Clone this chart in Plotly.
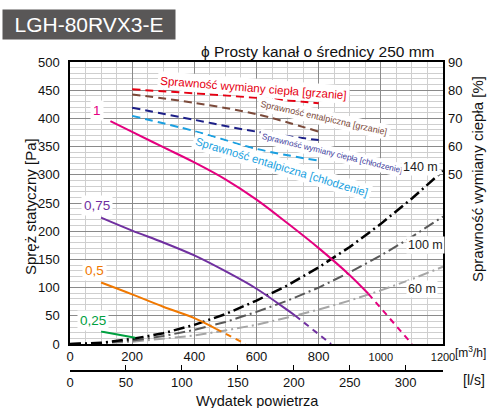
import plotly.graph_objects as go

W, H = 490, 408
ML, MR, MT, MB = 70, 47, 62, 37

# ---------------- data ----------------
# fan curves (static pressure [Pa] vs airflow [m3/h])
fan1_x = [130, 200, 300, 400, 500, 600, 700, 800, 900, 960]
fan1_y = [395, 376, 349, 322, 292, 256, 214, 170, 122, 89]
fan1_ext_x = [960, 1030, 1100]
fan1_ext_y = [89, 45, 0]

fan075_x = [100, 200, 300, 400, 500, 600, 700, 725]
fan075_y = [224, 201, 180, 157, 129, 98, 60, 50]
fan075_ext_x = [725, 840]
fan075_ext_y = [50, 0]

fan05_x = [100, 200, 300, 400, 470]
fan05_y = [109, 88, 66, 46, 27]
fan05_ext_x = [470, 565]
fan05_ext_y = [27, 0]

fan025_x = [100, 210]
fan025_y = [22, 11]

# duct system curves
sys_x = [0, 100, 200, 300, 400, 500, 600, 700, 800, 900, 1000, 1100, 1200]
sys140_y = [0, 2, 9, 19, 34, 53, 77, 104, 136, 172, 213, 258, 307]
sys100_y = [0, 2, 6, 14, 25, 39, 57, 77, 100, 127, 157, 190, 226]
sys60_y = [0, 1, 4, 9, 15, 24, 34, 47, 61, 77, 95, 115, 137]

# efficiencies [%]
eff_x = [200, 400, 600, 800]
eff_heat_exch = [80.3, 78.9, 77.3, 75.4]
eff_heat_enth = [78.5, 75.5, 71.5, 65.3]
eff_cool_exch = [73.8, 69.5, 65.3, 62.3]
eff_cool_enth = [70.9, 65.5, 59.2, 55.0]

x_ticks = [0, 200, 400, 600, 800, 1000, 1200]
x_ticktext = ["0", "200", "400", "600", "800",
              "<span style='font-size:11px'>1000</span>",
              "<span style='font-size:11px'>1200</span>"]
ls_ticks = [0, 50, 100, 150, 200, 250, 300]
right_ticks = [50, 60, 70, 80, 90]

FONT = "Liberation Sans, Arial, sans-serif"
NARROW = "Liberation Sans Narrow, Arial Narrow, Liberation Sans, sans-serif"


def pp(px, py):
    return (px - ML) / (W - ML - MR), (H - MB - py) / (H - MT - MB)


fig = go.Figure()

# system curves
for y, col, w in [(sys60_y, "#a6a6a6", 2), (sys100_y, "#595959", 2), (sys140_y, "#000000", 2.5)]:
    fig.add_trace(go.Scatter(x=sys_x, y=y, mode="lines",
                             line=dict(color=col, width=w, dash="11px,4px,2px,4px"),
                             hoverinfo="skip", showlegend=False))

# fan curves
for xs, ys, xe, ye, col in [
    (fan1_x, fan1_y, fan1_ext_x, fan1_ext_y, "#e4007f"),
    (fan075_x, fan075_y, fan075_ext_x, fan075_ext_y, "#7030a0"),
    (fan05_x, fan05_y, fan05_ext_x, fan05_ext_y, "#f07800"),
]:
    fig.add_trace(go.Scatter(x=xs, y=ys, mode="lines", line=dict(color=col, width=2),
                             line_shape="spline", hoverinfo="skip", showlegend=False))
    fig.add_trace(go.Scatter(x=xe, y=ye, mode="lines", line=dict(color=col, width=2, dash="6px,5px"),
                             hoverinfo="skip", showlegend=False))
fig.add_trace(go.Scatter(x=fan025_x, y=fan025_y, mode="lines", line=dict(color="#00a040", width=2),
                         hoverinfo="skip", showlegend=False))

# efficiency curves
for ys, col in [(eff_heat_exch, "#e60012"), (eff_heat_enth, "#7b4a3a"),
                (eff_cool_exch, "#1d2088"), (eff_cool_enth, "#1a9fe0")]:
    fig.add_trace(go.Scatter(x=eff_x, y=ys, mode="lines", yaxis="y2",
                             line=dict(color=col, width=2, dash="8px,5px"),
                             line_shape="spline", hoverinfo="skip", showlegend=False))

# dummy trace to hold the l/s axis
fig.add_trace(go.Scatter(x=[0, 333.3], y=[None, None], xaxis="x2", mode="lines",
                         hoverinfo="skip", showlegend=False))

ydom0 = (H - MB - 344) / (H - MT - MB)

ann = []
# efficiency labels
for txt, x, y, col, size, fam, ang in [
    ("Sprawność wymiany ciepła [grzanie]", 589, 454, "#e60012", 11.6, FONT, 4.5),
    ("Sprawność entalpiczna [grzanie]", 817, 401, "#7b4a3a", 9, NARROW, 12.7),
    ("Sprawność wymiany ciepła [chłodzenie]", 843, 337, "#3c3c9c", 8.2, NARROW, 13.8),
    ("Sprawność entalpiczna [chłodzenie]", 682, 314, "#1a9fe0", 11.3, FONT, 16.8),
]:
    ann.append(dict(text=txt, x=x, y=y, xref="x", yref="y", showarrow=False, textangle=ang,
                    font=dict(family=fam, size=size, color=col), bgcolor="white", borderpad=2))
# fan labels
for txt, x, y, col in [("1", 86, 414, "#e4007f"), ("0,75", 86, 246, "#7030a0"),
                       ("0,5", 80, 130, "#f07800"), ("0,25", 75, 41, "#00a040")]:
    ann.append(dict(text=txt, x=x, y=y, xref="x", yref="y", showarrow=False,
                    font=dict(family=FONT, size=13.5, color=col), bgcolor="white", borderpad=2))
# system labels
for txt, x, y in [("140 m", 1126, 314), ("100 m", 1145, 176), ("60 m", 1131, 97.5)]:
    ann.append(dict(text=txt, x=x, y=y, xref="x", yref="y", showarrow=False,
                    font=dict(family=FONT, size=12.5, color="#222"), bgcolor="white", borderpad=1))

# title box
tx, ty = pp(89, 25)
ann.append(dict(text="LGH-80RVX3-E", x=tx, y=ty, xref="paper", yref="paper", showarrow=False,
                xanchor="center", yanchor="middle", width=168, height=25, borderpad=2,
                bgcolor="#595757", font=dict(family=FONT, size=21, color="white")))
sx, sy = pp(437, 51)
ann.append(dict(text="ϕ Prosty kanał o średnicy 250 mm", x=sx, y=sy, xref="paper", yref="paper",
                showarrow=False, xanchor="right", yanchor="middle",
                font=dict(family=FONT, size=15.5, color="#111")))
lx, ly = pp(30, 207)
ann.append(dict(text="Spręż statyczny [Pa]", x=lx, y=ly, xref="paper", yref="paper", showarrow=False,
                textangle=-90, xanchor="center", yanchor="middle",
                font=dict(family=FONT, size=15, color="#111")))
rx, ry = pp(477, 179)
ann.append(dict(text="Sprawność wymiany ciepła [%]", x=rx, y=ry, xref="paper", yref="paper",
                showarrow=False, textangle=-90, xanchor="center", yanchor="middle",
                font=dict(family=FONT, size=15, color="#111")))
bx, by = pp(257, 401)
ann.append(dict(text="Wydatek powietrza", x=bx, y=by, xref="paper", yref="paper", showarrow=False,
                xanchor="center", yanchor="middle", font=dict(family=FONT, size=14.5, color="#111")))
mx, my = pp(470, 352)
ann.append(dict(text="[m<sup>3</sup>/h]", x=mx, y=my, xref="paper", yref="paper", showarrow=False,
                xanchor="center", yanchor="middle", font=dict(family=FONT, size=12, color="#111")))
qx, qy = pp(474, 380)
ann.append(dict(text="[l/s]", x=qx, y=qy, xref="paper", yref="paper", showarrow=False,
                xanchor="center", yanchor="middle", font=dict(family=FONT, size=14, color="#111")))

fig.update_layout(
    width=W, height=H, margin=dict(l=ML, r=MR, t=MT, b=MB),
    paper_bgcolor="white", plot_bgcolor="white",
    font=dict(family=FONT, size=13, color="#111"),
    showlegend=False,
    annotations=ann,
    xaxis=dict(range=[0, 1200], tickmode="array", tickvals=x_ticks, ticktext=x_ticktext,
               showgrid=True, gridcolor="#8a8a8a", gridwidth=1,
               minor=dict(tickmode="linear", tick0=0, dtick=50, showgrid=True,
                          gridcolor="#cfcfcf", gridwidth=1),
               showline=True, linecolor="black", linewidth=1.5, mirror=True,
               ticks="", zeroline=False, anchor="y", tickfont=dict(size=13),
               ticklabelstandoff=0),
    yaxis=dict(range=[0, 500], dtick=50, domain=[ydom0, 1],
               showgrid=True, gridcolor="#8a8a8a", gridwidth=1,
               minor=dict(tickmode="linear", tick0=0, dtick=10, showgrid=True,
                          gridcolor="#cfcfcf", gridwidth=1),
               showline=True, linecolor="black", linewidth=1.5, mirror=True,
               ticks="", zeroline=False, tickfont=dict(size=13), ticklabelstandoff=6),
    yaxis2=dict(range=[-10, 90], overlaying="y", side="right", tickmode="array",
                tickvals=right_ticks, showgrid=False, zeroline=False, showline=False,
                ticks="", tickfont=dict(size=13), ticklabelstandoff=4),
    xaxis2=dict(range=[0, 1200 / 3.6], overlaying="x", anchor="free", position=0,
                tickmode="array", tickvals=ls_ticks, showgrid=False, zeroline=False,
                showline=True, linecolor="black", linewidth=1.5, ticks="inside",
                ticklen=5, tickcolor="black", tickfont=dict(size=13)),
)

fig.write_html("out.html", config={"displayModeBar": False},
               post_script="document.body.style.margin='0';document.body.style.overflow='hidden';")
